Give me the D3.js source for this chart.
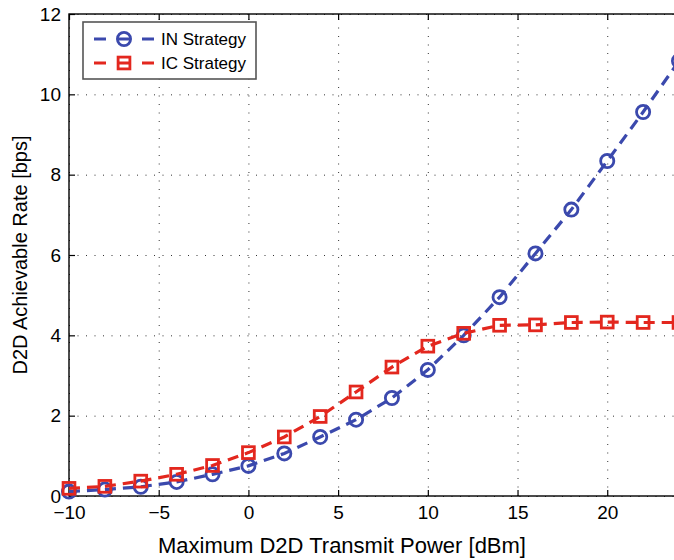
<html>
<head>
    <meta charset="utf-8">
    <script src="https://d3js.org/d3.v7.min.js"></script>
    <style>
        body { margin: 0; background: #fff; }
        svg { display: block; font-family: "Liberation Sans", Arial, sans-serif; }
    </style>
</head>
<body>
    <svg id="chart"></svg>
    <script>
        /* datos */
        var power = [-10, -8, -6, -4, -2, 0, 2, 4, 6, 8, 10, 12, 14, 16, 18, 20, 22, 24];
        var inRate = [0.11, 0.16, 0.23, 0.35, 0.54, 0.75, 1.06, 1.47, 1.9, 2.44, 3.14, 4.0, 4.95, 6.04, 7.13, 8.34, 9.56, 10.83];
        var icRate = [0.19, 0.24, 0.37, 0.54, 0.76, 1.08, 1.47, 1.98, 2.59, 3.21, 3.73, 4.05, 4.25, 4.26, 4.32, 4.33, 4.32, 4.32];
        var xTicks = [-10, -5, 0, 5, 10, 15, 20];
        var yTicks = [0, 2, 4, 6, 8, 10, 12];
        var seriesNames = ["IN Strategy", "IC Strategy"];

        var W = 674, H = 560;
        /* ojo: "top" ya existe en window, por eso plotTop */
        var plotLeft = 69, plotRight = 679, plotTop = 14, plotBottom = 496;
        var blue = "#3b49ad", red = "#e3271e";

        var svg = d3.select("#chart").attr("width", W).attr("height", H);

        var x = d3.scaleLinear().domain([-10, 24]).range([plotLeft, plotRight]);
        var y = d3.scaleLinear().domain([0, 12]).range([plotBottom, plotTop]);

        /* grid punteado */
        svg.append("g")
            .attr("transform", "translate(0," + plotBottom + ")")
            .call(d3.axisBottom(x).tickValues(xTicks).tickSize(-(plotBottom - plotTop)).tickFormat(""))
            .call(g => g.select(".domain").remove())
            .selectAll("line")
            .attr("stroke", "#333").attr("stroke-dasharray", "1,7.5");
        svg.append("g")
            .attr("transform", "translate(" + plotLeft + ",0)")
            .call(d3.axisLeft(y).tickValues(yTicks).tickSize(-(plotRight - plotLeft)).tickFormat(""))
            .call(g => g.select(".domain").remove())
            .selectAll("line")
            .attr("stroke", "#333").attr("stroke-dasharray", "1,7.5");

        /* caja de los ejes */
        svg.append("rect")
            .attr("x", plotLeft).attr("y", plotTop)
            .attr("width", plotRight - plotLeft).attr("height", plotBottom - plotTop)
            .attr("fill", "none").attr("stroke", "#000").attr("stroke-width", 1.4);

        /* ejes con ticks hacia adentro */
        var xAxis = svg.append("g")
            .attr("transform", "translate(0," + plotBottom + ")")
            .call(d3.axisBottom(x).tickValues(xTicks).tickSize(-6).tickPadding(10));
        var yAxis = svg.append("g")
            .attr("transform", "translate(" + plotLeft + ",0)")
            .call(d3.axisLeft(y).tickValues(yTicks).tickSize(-6).tickPadding(8));
        var xTop = svg.append("g")
            .attr("transform", "translate(0," + plotTop + ")")
            .call(d3.axisTop(x).tickValues(xTicks).tickSize(-6).tickFormat(""));
        [xAxis, yAxis, xTop].forEach(function(g) {
            g.select(".domain").remove();
            g.selectAll("line").attr("stroke", "#000").attr("stroke-width", 1.2);
            g.selectAll("text")
                .attr("fill", "#000")
                .style("font-family", "'Liberation Sans', Arial, sans-serif")
                .style("font-size", "19px");
        });

        /* titulos de los ejes */
        svg.append("text")
            .attr("x", 342).attr("y", 553)
            .attr("text-anchor", "middle")
            .style("font-size", "22px")
            .text("Maximum D2D Transmit Power [dBm]");
        svg.append("text")
            .attr("transform", "translate(27," + ((plotTop + plotBottom) / 2) + ") rotate(-90)")
            .attr("text-anchor", "middle")
            .style("font-size", "20px")
            .text("D2D Achievable Rate [bps]");

        /* las dos series */
        var series = [
            {name: seriesNames[0], color: blue, shape: "circle", values: inRate},
            {name: seriesNames[1], color: red, shape: "square", values: icRate}
        ];

        var line = d3.line().x(d => x(d[0])).y(d => y(d[1]));

        function drawMarker(g, shape, color) {
            if (shape === "circle") {
                g.append("circle").attr("r", 6.6);
            } else {
                g.append("rect").attr("x", -5.9).attr("y", -5.9).attr("width", 11.8).attr("height", 11.8);
            }
            g.selectAll("circle, rect")
                .attr("fill", "none")
                .attr("stroke", color)
                .attr("stroke-width", 2.8);
        }

        series.forEach(function(s) {
            var pts = power.map((p, i) => [p, s.values[i]]);
            svg.append("path")
                .datum(pts)
                .attr("d", line)
                .attr("fill", "none")
                .attr("stroke", s.color)
                .attr("stroke-width", 3.2)
                .attr("stroke-dasharray", "11,7");
            svg.selectAll(null).data(pts).enter()
                .append("g")
                .attr("transform", d => "translate(" + x(d[0]) + "," + y(d[1]) + ")")
                .each(function() { drawMarker(d3.select(this), s.shape, s.color); });
        });

        /* leyenda */
        var legend = svg.append("g").attr("transform", "translate(83,22)");
        legend.append("rect")
            .attr("width", 173).attr("height", 57)
            .attr("fill", "#fff").attr("stroke", "#555").attr("stroke-width", 1.6);
        series.forEach(function(s, i) {
            var row = legend.append("g").attr("transform", "translate(0," + (17 + i * 24) + ")");
            row.append("line")
                .attr("x1", 11).attr("x2", 71).attr("y1", 0).attr("y2", 0)
                .attr("stroke", s.color).attr("stroke-width", 3.2)
                .attr("stroke-dasharray", "12,12");
            drawMarker(row.append("g").attr("transform", "translate(41,0)"), s.shape, s.color);
            row.append("text")
                .attr("x", 78).attr("y", 0)
                .attr("dy", "0.35em")
                .style("font-size", "17px")
                .text(s.name);
        });
    </script>
</body>
</html>
